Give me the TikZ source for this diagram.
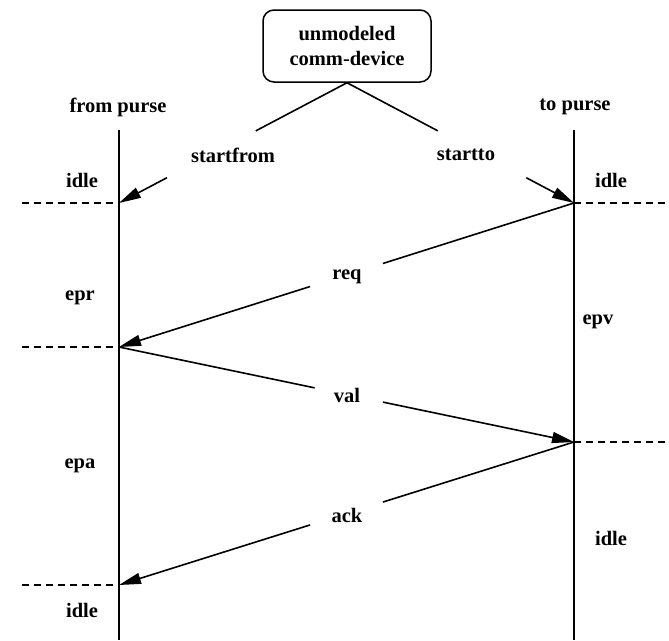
\documentclass[tikz,border=0pt]{standalone}
\usepackage{fontspec}
\setmainfont{Liberation Serif}
\usetikzlibrary{arrows.meta,calc}
\begin{document}
\begin{tikzpicture}[x=1pt,y=-1pt,
  txt/.style={font=\fontsize{20.5}{25}\selectfont\bfseries, inner sep=0pt, align=center},
  lifeline/.style={line width=1.7pt},
  msg/.style={line width=1.6pt},
  tipped/.style={msg, -{Triangle[length=22pt,width=11pt]}},
  boundary/.style={line width=1.3pt, dash pattern=on 7pt off 5pt},
  device/.style={draw, line width=1.5pt, rounded corners=11pt, minimum width=168pt, minimum height=72pt, txt}]
\useasboundingbox (0,0) rectangle (669,640);

% the two purses
\coordinate (Ltop) at (119,130);
\coordinate (Lbot) at (119,640);
\coordinate (Rtop) at (574,130);
\coordinate (Rbot) at (574,640);
\draw[lifeline] (Ltop) -- (Lbot);
\draw[lifeline] (Rtop) -- (Rbot);
\node[txt] (fromp) at (118,107) {from purse};
\node[txt] (top) at (575,107) {to purse};

% event points on the lifelines
\coordinate (L1) at (119,203);
\coordinate (L2) at (119,347);
\coordinate (L3) at (119,585);
\coordinate (R1) at (574,203);
\coordinate (R2) at (574,442);
\coordinate (L1e) at (22,203);
\coordinate (L2e) at (22,347);
\coordinate (L3e) at (22,585);
\coordinate (R1e) at (669,203);
\coordinate (R2e) at (669,442);

% state boundaries
\draw[boundary] (L1e) -- (L1);
\draw[boundary] (L2e) -- (L2);
\draw[boundary] (L3e) -- (L3);
\draw[boundary] (R1) -- (R1e);
\draw[boundary] (R2) -- (R2e);

% states
\node[txt] (s1) at (82,180) {idle};
\node[txt] (s2) at (80,298) {epr};
\node[txt] (s3) at (80,466) {epa};
\node[txt] (s4) at (82,610) {idle};
\node[txt] (s5) at (611,180) {idle};
\node[txt] (s6) at (598,322) {epv};
\node[txt] (s7) at (611,538) {idle};

% the device that starts both purses
\node[device] (dev) at (347,46) {unmodeled\\comm-device};

\node[txt] (startfrom) at (233,155) {startfrom};
\node[txt] (startto) at (466,155) {startto};
\draw[msg] (dev.south) -- ($(dev.south)!0.40!(L1)$);
\draw[tipped] ($(dev.south)!0.79!(L1)$) -- (L1);
\draw[msg] (dev.south) -- ($(dev.south)!0.40!(R1)$);
\draw[tipped] ($(dev.south)!0.79!(R1)$) -- (R1);

% messages between the purses
\node[txt] (req) at (347,277) {req};
\draw[msg] (R1) -- ($(R1)!0.42!(L2)$);
\draw[tipped] ($(R1)!0.58!(L2)$) -- (L2);

\node[txt] (val) at (347,395) {val};
\draw[msg] (L2) -- ($(L2)!0.43!(R2)$);
\draw[tipped] ($(L2)!0.58!(R2)$) -- (R2);

\node[txt] (ack) at (347,515) {ack};
\draw[msg] (R2) -- ($(R2)!0.42!(L3)$);
\draw[tipped] ($(R2)!0.58!(L3)$) -- (L3);
\end{tikzpicture}
\end{document}
